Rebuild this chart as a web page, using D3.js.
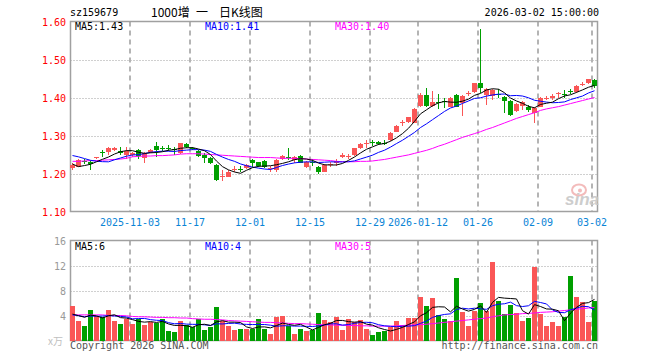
<!DOCTYPE html>
<html><head><meta charset="utf-8">
<script src="https://cdn.jsdelivr.net/npm/d3@7"></script>
<style>
body{margin:0;background:#fff}
svg{display:block}
text{font-family:"DejaVu Sans Mono","Liberation Mono",monospace;font-size:10px}
</style>
</head><body>
<svg id="chart" width="660" height="360"></svg>
<script>
// ---------------- data ----------------
const code = "sz159679";
const titleParts = ["1000增", "一", "日K线图"];
const stamp = "2026-03-02 15:00:00";
const dates = [
"2025-10-20","2025-10-21","2025-10-22","2025-10-23","2025-10-24","2025-10-27","2025-10-28","2025-10-29","2025-10-30","2025-10-31",
"2025-11-03","2025-11-04","2025-11-05","2025-11-06","2025-11-07","2025-11-10","2025-11-11","2025-11-12","2025-11-13","2025-11-14",
"2025-11-17","2025-11-18","2025-11-19","2025-11-20","2025-11-21","2025-11-24","2025-11-25","2025-11-26","2025-11-27","2025-11-28",
"2025-12-01","2025-12-02","2025-12-03","2025-12-04","2025-12-05","2025-12-08","2025-12-09","2025-12-10","2025-12-11","2025-12-12",
"2025-12-15","2025-12-16","2025-12-17","2025-12-18","2025-12-19","2025-12-22","2025-12-23","2025-12-24","2025-12-25","2025-12-26",
"2025-12-29","2025-12-30","2025-12-31","2026-01-05","2026-01-06","2026-01-07","2026-01-08","2026-01-09","2026-01-12","2026-01-13",
"2026-01-14","2026-01-15","2026-01-16","2026-01-19","2026-01-20","2026-01-21","2026-01-22","2026-01-23","2026-01-26","2026-01-27",
"2026-01-28","2026-01-29","2026-01-30","2026-02-02","2026-02-03","2026-02-04","2026-02-05","2026-02-06","2026-02-09","2026-02-10",
"2026-02-11","2026-02-12","2026-02-13","2026-02-24","2026-02-25","2026-02-26","2026-02-27","2026-03-02"];
const open = [
1.2145,1.218,1.233,1.229,1.240,1.256,1.257,1.262,1.259,1.249,
1.2495,1.262,1.241,1.257,1.272,1.266,1.268,1.264,1.253,1.278,
1.268,1.260,1.250,1.240,1.222,1.1905,1.192,1.209,1.212,1.2135,
1.236,1.229,1.233,1.212,1.209,1.237,1.244,1.236,1.247,1.218,
1.231,1.218,1.205,1.222,1.2285,1.244,1.244,1.249,1.2665,1.278,
1.282,1.284,1.281,1.288,1.310,1.332,1.3365,1.334,1.378,1.4065,
1.378,1.389,1.392,1.376,1.4065,1.3865,1.409,1.4155,1.437,1.4065,
1.404,1.409,1.402,1.391,1.3655,1.378,1.374,1.360,1.376,1.3965,
1.400,1.409,1.410,1.417,1.415,1.433,1.438,1.445];
const high = [
1.227,1.238,1.237,1.236,1.244,1.262,1.271,1.271,1.271,1.271,
1.257,1.264,1.257,1.264,1.284,1.272,1.274,1.269,1.281,1.279,
1.271,1.262,1.253,1.244,1.225,1.209,1.210,1.2205,1.2205,1.224,
1.237,1.231,1.235,1.221,1.237,1.248,1.268,1.246,1.250,1.233,
1.237,1.220,1.224,1.229,1.237,1.253,1.251,1.268,1.281,1.288,
1.288,1.286,1.287,1.310,1.328,1.341,1.350,1.372,1.413,1.426,
1.417,1.409,1.398,1.401,1.409,1.407,1.418,1.439,1.579,1.424,
1.422,1.422,1.404,1.393,1.385,1.391,1.380,1.374,1.401,1.403,
1.409,1.415,1.420,1.422,1.433,1.442,1.450,1.448];
const low = [
1.209,1.216,1.225,1.209,1.237,1.243,1.249,1.260,1.249,1.237,
1.244,1.237,1.2285,1.255,1.243,1.260,1.260,1.249,1.251,1.267,
1.262,1.243,1.2285,1.225,1.180,1.181,1.190,1.204,1.205,1.211,
1.218,1.216,1.214,1.203,1.205,1.235,1.236,1.227,1.227,1.215,
1.221,1.198,1.203,1.216,1.221,1.240,1.237,1.247,1.264,1.266,
1.272,1.275,1.274,1.286,1.308,1.325,1.332,1.332,1.374,1.374,
1.374,1.369,1.372,1.374,1.374,1.351,1.404,1.413,1.413,1.380,
1.393,1.398,1.358,1.352,1.363,1.367,1.363,1.334,1.374,1.393,
1.393,1.399,1.399,1.410,1.413,1.431,1.436,1.424];
const close = [
1.2215,1.236,1.229,1.225,1.243,1.254,1.266,1.268,1.255,1.258,
1.253,1.246,1.253,1.262,1.262,1.264,1.265,1.262,1.279,1.269,
1.266,1.246,1.240,1.2285,1.183,1.193,1.2035,1.212,1.211,1.2225,
1.2285,1.220,1.216,1.215,1.236,1.246,1.241,1.244,1.2285,1.231,
1.2285,1.205,1.222,1.225,1.232,1.248,1.246,1.2665,1.278,1.280,
1.280,1.278,1.279,1.3075,1.325,1.3355,1.348,1.370,1.4065,1.378,
1.389,1.386,1.388,1.398,1.376,1.404,1.413,1.437,1.424,1.4215,
1.4198,1.4065,1.391,1.354,1.383,1.389,1.367,1.3715,1.398,1.399,
1.403,1.413,1.407,1.414,1.430,1.436,1.448,1.430];
const volume = [
5.5,3.1,2.3,4.9,3.9,3.8,4.9,3.1,2.6,3.5,
2.6,3.5,2.5,3.0,2.85,3.4,1.5,1.3,3.1,2.5,
2.2,3.5,1.7,2.1,5.4,3.2,2.3,1.7,1.8,1.9,
1.9,3.5,1.8,1.0,3.75,3.9,2.4,1.1,1.8,1.5,
1.7,4.35,3.3,2.9,3.8,1.7,3.4,2.9,3.3,1.8,
0.9,1.3,1.5,2.1,3.1,2.5,3.6,3.6,7.0,5.5,
6.8,4.1,3.4,3.1,10.0,4.6,2.4,4.8,6.0,4.7,
12.6,6.4,4.2,5.7,4.35,3.2,3.65,11.8,4.2,2.4,
3.0,2.4,3.8,10.3,7.0,6.2,3.0,6.4];
// closes / volumes of the 9 sessions before the first visible one (for MA5/MA10)
const priorClose = [1.270,1.275,1.270,1.268,1.265,1.270,1.215,1.208,1.210];
const priorVolume = [4.5,4.0,3.8,4.2,3.5,4.3,3.6,3.2,4.5];
// MA30 lines
const ma30Price = [
1.232,1.232,1.233,1.234,1.234,1.235,1.236,1.237,1.238,1.240,
1.244,1.245,1.246,1.246,1.247,1.247,1.248,1.249,1.251,1.252,
1.252,1.252,1.251,1.250,1.249,1.248,1.247,1.246,1.245,1.244,
1.243,1.242,1.242,1.242,1.241,1.240,1.240,1.240,1.239,1.238,
1.237,1.236,1.235,1.234,1.232,1.231,1.231,1.231,1.232,1.232,
1.233,1.235,1.237,1.240,1.243,1.246,1.249,1.253,1.257,1.261,
1.266,1.272,1.277,1.283,1.289,1.295,1.300,1.305,1.310,1.316,
1.321,1.327,1.333,1.339,1.345,1.350,1.355,1.360,1.366,1.370,
1.373,1.376,1.380,1.384,1.388,1.392,1.396,1.400];
const ma30Volume = [
4.1,4.1,4.1,4.1,4.1,4.1,4.0,4.0,4.0,3.95,
3.85,3.8,3.8,3.75,3.7,3.7,3.65,3.65,3.6,3.6,
3.5,3.45,3.4,3.4,3.35,3.3,3.2,3.15,3.1,3.05,
3.0,2.95,2.9,2.9,2.85,2.8,2.75,2.7,2.7,2.65,
2.6,2.55,2.5,2.5,2.45,2.45,2.4,2.4,2.35,2.35,
2.3,2.3,2.3,2.3,2.35,2.4,2.45,2.5,2.55,2.6,
2.7,2.8,2.9,3.0,3.1,3.2,3.3,3.4,3.5,3.6,
3.8,3.95,4.1,4.15,4.2,4.3,4.35,4.4,4.5,4.55,
4.6,4.7,4.8,4.9,5.0,5.1,5.2,5.3];
const priceTicks = [1.10,1.20,1.30,1.40,1.50,1.60];
const volumeTicks = [4,8,12,16];
const tickDates = ["2025-11-03","2025-11-17","2025-12-01","2025-12-15","2025-12-29","2026-01-12","2026-01-26","2026-02-09","2026-03-02"];
const tickLabels = ["2025-11-03","11-17","12-01","12-15","12-29","2026-01-12","01-26","02-09","03-02"];
const priceLegend = ["MA5:1.43","MA10:1.41","MA30:1.40"];
const volumeLegend = ["MA5:6","MA10:4","MA30:5"];
const legendColors = ["#000000","#0000ff","#ff00ff"];

// ---------------- drawing ----------------
const svg = d3.select("#chart");
const UP = "#fa5656", DOWN = "#009f00";
const FL = 70.5, FR = 597.5;

const x = d3.scalePoint().domain(dates).range([72.5, 594.5]);
const yP = d3.scaleLinear().domain([1.10, 1.60]).range([211.5, 21.5]);
const yV = d3.scaleLinear().domain([0, 16]).range([340.5, 240.5]);

function movingAvg(series, prior, n) {
  const all = prior.concat(series);
  return series.map((_, i) => {
    const j = i + prior.length;
    return d3.mean(all.slice(Math.max(0, j - n + 1), j + 1));
  });
}
const ma5P = movingAvg(close, priorClose, 5);
const ma10P = movingAvg(close, priorClose, 10);
const ma5V = movingAvg(volume, priorVolume, 5);
const ma10V = movingAvg(volume, priorVolume, 10);

function panel(y, top, bottom, gridVals) {
  const g = svg.append("g");
  g.selectAll("line.h").data(gridVals).join("line")
    .attr("x1", FL).attr("x2", FR)
    .attr("y1", d => Math.round(y(d)) + 0.5).attr("y2", d => Math.round(y(d)) + 0.5)
    .attr("stroke", "#a0a0a0").attr("stroke-width", 1).attr("stroke-dasharray", "1,2");
  g.selectAll("line.v").data(tickDates).join("line")
    .attr("x1", d => x(d) - 2.5).attr("x2", d => x(d) - 2.5)
    .attr("y1", top).attr("y2", bottom)
    .attr("stroke", "#b4b4b4").attr("stroke-width", 2).attr("stroke-dasharray", "5,4");
  g.append("rect").attr("x", FL).attr("y", top).attr("width", FR - FL).attr("height", bottom - top)
    .attr("fill", "none").attr("stroke", "#a0a0a0").attr("stroke-width", 1.5);
}
panel(yP, 21.5, 211.5, [1.20,1.30,1.40,1.50]);
panel(yV, 240.5, 340.5, [4,8,12]);

svg.append("g").selectAll("text").data(priceTicks).join("text")
  .attr("x", 66).attr("y", d => yP(d) + 4).attr("text-anchor", "end")
  .attr("fill", "#ff0000").text(d => d.toFixed(2));
svg.append("g").selectAll("text").data(volumeTicks).join("text")
  .attr("x", 66).attr("y", d => yV(d) + 4).attr("text-anchor", "end")
  .attr("fill", "#999999").text(d => d);
svg.append("text").attr("x", 48).attr("y", 345).attr("fill", "#c0c0c0")
  .style("font-family", "'Noto Sans CJK SC',sans-serif").style("font-size", "10px").text("x万");
svg.append("g").selectAll("text").data(tickDates).join("text")
  .attr("x", d => x(d) - 2.5).attr("y", 226).attr("text-anchor", "middle")
  .attr("fill", "#0a84d6").text((d, i) => tickLabels[i]);

// candles
const idx = d3.range(dates.length);
const cg = svg.append("g").attr("shape-rendering", "crispEdges");
cg.selectAll("line").data(idx).join("line")
  .attr("x1", i => x(dates[i])).attr("x2", i => x(dates[i]))
  .attr("y1", i => yP(high[i])).attr("y2", i => yP(low[i]))
  .attr("stroke", i => close[i] >= open[i] ? UP : DOWN).attr("stroke-width", 1);
cg.selectAll("rect").data(idx).join("rect")
  .attr("x", i => x(dates[i]) - 2.5).attr("width", 5)
  .attr("y", i => yP(Math.max(open[i], close[i])))
  .attr("height", i => Math.max(1, yP(Math.min(open[i], close[i])) - yP(Math.max(open[i], close[i]))))
  .attr("fill", i => close[i] >= open[i] ? UP : DOWN);

// volume bars
const vg = svg.append("g").attr("shape-rendering", "crispEdges");
vg.selectAll("rect").data(idx).join("rect")
  .attr("x", i => x(dates[i]) - 2.5).attr("width", 5)
  .attr("y", i => yV(volume[i])).attr("height", i => yV(0) - yV(volume[i]))
  .attr("fill", i => close[i] >= open[i] ? UP : DOWN);

function maLine(vals, y, color) {
  svg.append("path").datum(idx)
    .attr("d", d3.line().x(i => x(dates[i])).y(i => y(vals[i])))
    .attr("fill", "none").attr("stroke", color).attr("stroke-width", 1);
}
maLine(ma30Price, yP, "#ff00ff");
maLine(ma10P, yP, "#0000ff");
maLine(ma5P, yP, "#000000");
maLine(ma30Volume, yV, "#ff00ff");
maLine(ma10V, yV, "#0000ff");
maLine(ma5V, yV, "#000000");

const legendX = [75, 205, 335];
svg.append("g").selectAll("text").data(priceLegend).join("text")
  .attr("x", (d, i) => legendX[i]).attr("y", 30).attr("fill", (d, i) => legendColors[i]).text(d => d);
svg.append("g").selectAll("text").data(volumeLegend).join("text")
  .attr("x", (d, i) => legendX[i]).attr("y", 250).attr("fill", (d, i) => legendColors[i]).text(d => d);

// header
svg.append("text").attr("x", 70).attr("y", 16).attr("fill", "#000").text(code);
const titleX = [151, 196, 219];
svg.append("g").selectAll("text").data(titleParts).join("text")
  .attr("x", (d, i) => titleX[i]).attr("y", 17).attr("fill", "#000")
  .style("font-family", "'Noto Sans CJK SC',sans-serif").style("font-size", "12px").text(d => d);
svg.append("text").attr("x", 599).attr("y", 16).attr("text-anchor", "end").attr("fill", "#000").text(stamp);

// footer
svg.append("text").attr("x", 70).attr("y", 349).attr("fill", "#555").text("Copyright 2026 SINA.COM");
svg.append("text").attr("x", 598).attr("y", 349).attr("text-anchor", "end").attr("fill", "#555").text("http://finance.sina.com.cn");

// sina watermark
const wm = svg.append("g").attr("opacity", 0.9);
wm.append("ellipse").attr("cx", 579).attr("cy", 190).attr("rx", 7).attr("ry", 5.5)
  .attr("fill", "none").attr("stroke", "#f2b4b4").attr("stroke-width", 2);
wm.append("circle").attr("cx", 580).attr("cy", 190.5).attr("r", 2).attr("fill", "#f2b4b4");
wm.append("text").attr("x", 565).attr("y", 205).attr("fill", "#c8c8c8")
  .style("font-family", "'Liberation Sans',Arial,sans-serif").style("font-size", "17px")
  .style("font-weight", "bold").style("font-style", "italic").text("sina");
</script>
</body></html>
